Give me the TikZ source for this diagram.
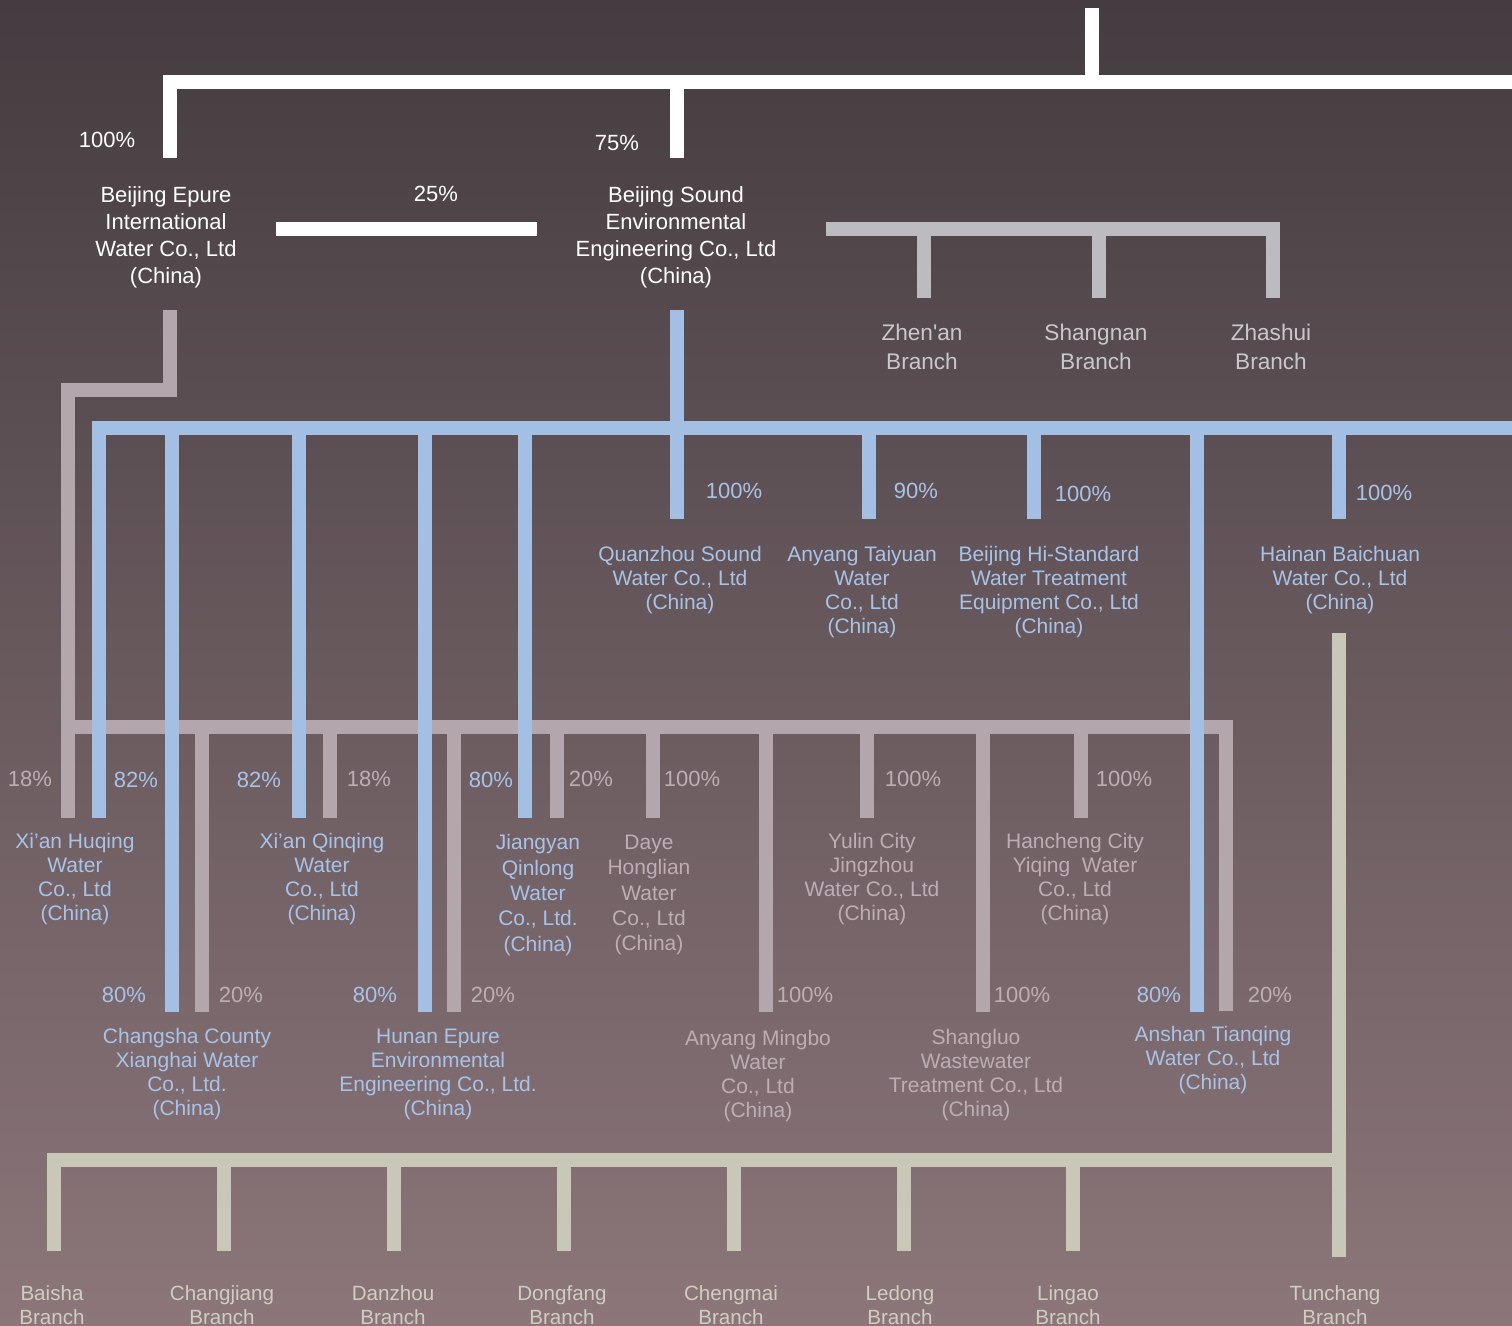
\documentclass[tikz,border=0pt]{standalone}
\usepackage{fontspec}
\setmainfont{Liberation Sans}
\usetikzlibrary{positioning, calc}

\definecolor{bgtop}{RGB}{68,60,64}
\definecolor{bgmid}{RGB}{94,84,87}
\definecolor{bgbot}{RGB}{140,118,122}
\definecolor{bargray}{RGB}{188,188,192}
\definecolor{barblue}{RGB}{163,191,227}
\definecolor{barmauve}{RGB}{179,166,173}
\definecolor{barbeige}{RGB}{201,200,184}
\definecolor{txtblue}{RGB}{168,195,232}
\definecolor{txtmauve}{RGB}{188,174,182}
\definecolor{txtgray}{RGB}{200,200,204}
\definecolor{txtbeige}{RGB}{208,206,192}

\tikzset{
  holdbar/.style={line width=7pt, line join=miter},
  whitebar/.style={holdbar, draw=white},
  graybar/.style={holdbar, draw=bargray},
  bluebar/.style={holdbar, draw=barblue},
  mauvebar/.style={holdbar, draw=barmauve},
  beigebar/.style={holdbar, draw=barbeige},
  lbl/.style={inner sep=0pt, align=center},
  parent/.style={lbl, text=white, font=\fontsize{11}{13.5}\selectfont},
  pwhite/.style={lbl, text=white, font=\fontsize{11}{13}\selectfont},
  pblue/.style={lbl, text=txtblue, font=\fontsize{11}{13}\selectfont},
  pmauve/.style={lbl, text=txtmauve, font=\fontsize{11}{13}\selectfont},
  cblue/.style={lbl, text=txtblue, font=\fontsize{10.5}{12}\selectfont},
  cmauve/.style={lbl, text=txtmauve, font=\fontsize{10.5}{12}\selectfont},
  grayb/.style={lbl, text=txtgray, font=\fontsize{11.3}{14.5}\selectfont},
  beigeb/.style={lbl, text=txtbeige, font=\fontsize{10.3}{12}\selectfont},
}

\begin{document}
\begin{tikzpicture}[x=0.5pt, y=-0.5pt]
      \useasboundingbox (0,0) rectangle (1512,1326);
      \clip (0,0) rectangle (1512,1326);
      \shade[top color=bgtop, middle color=bgmid, bottom color=bgbot] (0,0) rectangle (1512,1326);

      % white rails
      \coordinate (wtop)   at (1091.5,8);
      \coordinate (wright) at (1512,82);
      \coordinate (wepure) at (170,158);
      \coordinate (wsound) at (677,158);
      \coordinate (xleft)  at (276,229);
      \coordinate (xright) at (537,229);

      % gray rails
      \coordinate (gleft)  at (826,229);
      \coordinate (gzhenan) at (924,298);
      \coordinate (gshang) at (1099,298);
      \coordinate (gzhash) at (1273,298);

      % mauve rails
      \coordinate (mtop)   at (170,310);
      \coordinate (mstep)  at (67.5,390);
      \coordinate (mrail)  at (67.5,727);
      \coordinate (mhuqing) at (67.5,818);
      \coordinate (manshan) at (1226,1011);
      \coordinate (mchangsha) at (202,1012);
      \coordinate (mqinqing) at (330,818);
      \coordinate (mhunan) at (454,1012);
      \coordinate (mjiangyan) at (557,818);
      \coordinate (mdaye) at (653,818);
      \coordinate (mmingbo) at (766,1012);
      \coordinate (myulin) at (867,818);
      \coordinate (mshangluo) at (983,1012);
      \coordinate (mhancheng) at (1081,818);

      % blue rails
      \coordinate (btop)   at (677,310);
      \coordinate (brail)  at (99,428.5);
      \coordinate (bright) at (1512,428.5);
      \coordinate (bhuqing) at (99,818);
      \coordinate (bquanzhou) at (677,519);
      \coordinate (bchangsha) at (172,1012);
      \coordinate (bqinqing) at (299,818);
      \coordinate (bhunan) at (425,1012);
      \coordinate (bjiangyan) at (525,818);
      \coordinate (btaiyuan) at (869,519);
      \coordinate (bhistd) at (1034,519);
      \coordinate (banshan) at (1197,1012);
      \coordinate (bbaichuan) at (1339,519);

      % beige rails
      \coordinate (etop)   at (1339,633);
      \coordinate (etunchang) at (1339,1257);
      \coordinate (erail)  at (54,1160);
      \coordinate (ebaisha) at (54,1251);
      \coordinate (echangjiang) at (224,1251);
      \coordinate (edanzhou) at (394,1251);
      \coordinate (edongfang) at (564,1251);
      \coordinate (echengmai) at (734,1251);
      \coordinate (eledong) at (904,1251);
      \coordinate (elingao) at (1073,1251);

      \draw[mauvebar] (mtop) -- (mtop |- mstep) -- (mstep) -- (mhuqing);
      \draw[mauvebar] (mrail) -- (manshan |- mrail) -- (manshan);
      \foreach \c in {mchangsha, mqinqing, mhunan, mjiangyan, mdaye, mmingbo, myulin, mshangluo, mhancheng}
        \draw[mauvebar] (\c |- mrail) -- (\c);

      \draw[bluebar] (bhuqing) -- (brail) -- (bright);
      \draw[bluebar] (btop) -- (bquanzhou);
      \foreach \c in {bchangsha, bqinqing, bhunan, bjiangyan, btaiyuan, bhistd, banshan, bbaichuan}
        \draw[bluebar] (\c |- brail) -- (\c);

      \draw[graybar] (gleft) -- (gzhash |- gleft) -- (gzhash);
      \foreach \c in {gzhenan, gshang}
        \draw[graybar] (\c |- gleft) -- (\c);

      \draw[whitebar] (wtop) -- (wtop |- wright);
      \draw[whitebar] (wright) -- (wepure |- wright) -- (wepure);
      \draw[whitebar] (wsound |- wright) -- (wsound);
      \draw[whitebar] (xleft) -- (xright);

      \draw[beigebar] (etop) -- (etunchang);
      \draw[beigebar] (etunchang |- erail) -- (erail) -- (ebaisha);
      \foreach \c in {echangjiang, edanzhou, edongfang, echengmai, eledong, elingao}
        \draw[beigebar] (\c |- erail) -- (\c);

      % parents
      \node[pwhite] (pepure) at (107,140) {100\%};
      \node[pwhite] (psound) at (617,143) {75\%};
      \node[pwhite] (pcross) at (436,194) {25\%};
      \node[parent] (epure) at (166,237) {Beijing Epure\\International\\Water Co., Ltd\\(China)};
      \node[parent] (sound) at (676,237) {Beijing Sound\\Environmental\\Engineering Co., Ltd\\(China)};

      \node[grayb] (zhenan) at (922,347) {Zhen\textquotesingle an\\Branch};
      \node[grayb] (shangnan) at (1096,347) {Shangnan\\Branch};
      \node[grayb] (zhashui) at (1271,347) {Zhashui\\Branch};

      % first row
      \node[pblue] (pquanzhou) at (734,491) {100\%};
      \node[pblue] (ptaiyuan) at (916,491) {90\%};
      \node[pblue] (phistd) at (1083,494) {100\%};
      \node[pblue] (pbaichuan) at (1384,493) {100\%};
      \node[cblue] (quanzhou) at (680,580) {Quanzhou Sound\\Water Co., Ltd\\(China)};
      \node[cblue] (taiyuan) at (862,592) {Anyang Taiyuan\\Water\\Co., Ltd\\(China)};
      \node[cblue] (histd) at (1049,592) {Beijing Hi-Standard\\Water Treatment\\Equipment Co., Ltd\\(China)};
      \node[cblue] (baichuan) at (1340,580) {Hainan Baichuan\\Water Co., Ltd\\(China)};

      % second row
      \node[pmauve] (p18a) at (30,779) {18\%};
      \node[pblue] (p82a) at (136,780) {82\%};
      \node[pblue] (p82b) at (259,780) {82\%};
      \node[pmauve] (p18b) at (369,779) {18\%};
      \node[pblue] (p80a) at (491,780) {80\%};
      \node[pmauve] (p20a) at (591,779) {20\%};
      \node[pmauve] (pdaye) at (692,779) {100\%};
      \node[pmauve] (pyulin) at (913,779) {100\%};
      \node[pmauve] (phancheng) at (1124,779) {100\%};
      \node[cblue] (huqing) at (75,879) {Xi'an Huqing\\Water\\Co., Ltd\\(China)};
      \node[cblue] (qinqing) at (322,879) {Xi'an Qinqing\\Water\\Co., Ltd\\(China)};
      \node[cblue, font=\fontsize{10.5}{12.7}\selectfont] (jiangyan) at (538,895) {Jiangyan\\Qinlong\\Water\\Co., Ltd.\\(China)};
      \node[cmauve, font=\fontsize{10.5}{12.7}\selectfont] (daye) at (649,895) {Daye\\Honglian\\Water\\Co., Ltd\\(China)};
      \node[cmauve] (yulin) at (872,879) {Yulin City\\Jingzhou\\Water Co., Ltd\\(China)};
      \node[cmauve] (hancheng) at (1075,879) {Hancheng City\\Yiqing\ \ Water\\Co., Ltd\\(China)};

      % third row
      \node[pblue] (p80b) at (124,995) {80\%};
      \node[pmauve] (p20b) at (241,995) {20\%};
      \node[pblue] (p80c) at (375,995) {80\%};
      \node[pmauve] (p20c) at (493,995) {20\%};
      \node[pmauve] (pmingbo) at (805,995) {100\%};
      \node[pmauve] (pshangluo) at (1022,995) {100\%};
      \node[pblue] (p80d) at (1159,995) {80\%};
      \node[pmauve] (p20d) at (1270,995) {20\%};
      \node[cblue] (changsha) at (187,1074) {Changsha County\\Xianghai Water\\Co., Ltd.\\(China)};
      \node[cblue] (hunan) at (438,1074) {Hunan Epure\\Environmental\\Engineering Co., Ltd.\\(China)};
      \node[cmauve] (mingbo) at (758,1076) {Anyang Mingbo\\Water\\Co., Ltd\\(China)};
      \node[cmauve] (shangluo) at (976,1075) {Shangluo\\Wastewater\\Treatment Co., Ltd\\(China)};
      \node[cblue] (anshan) at (1213,1060) {Anshan Tianqing\\Water Co., Ltd\\(China)};

      % branches
      \node[beigeb] (baisha) at (52,1305) {Baisha\\Branch};
      \node[beigeb] (changjiang) at (222,1305) {Changjiang\\Branch};
      \node[beigeb] (danzhou) at (393,1305) {Danzhou\\Branch};
      \node[beigeb] (dongfang) at (562,1305) {Dongfang\\Branch};
      \node[beigeb] (chengmai) at (731,1305) {Chengmai\\Branch};
      \node[beigeb] (ledong) at (900,1305) {Ledong\\Branch};
      \node[beigeb] (lingao) at (1068,1305) {Lingao\\Branch};
      \node[beigeb] (tunchang) at (1335,1305) {Tunchang\\Branch};
\end{tikzpicture}
\end{document}
